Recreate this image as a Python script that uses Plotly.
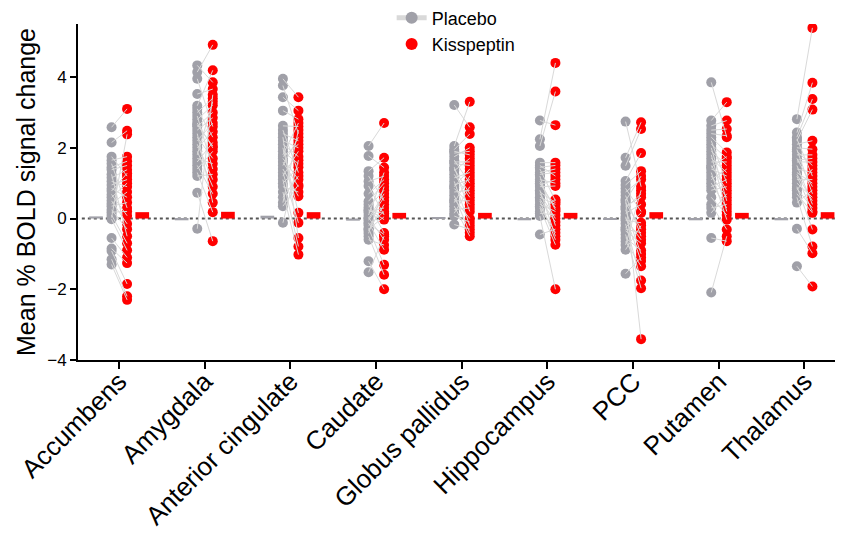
import plotly.graph_objects as go

regions = ["Accumbens", "Amygdala", "Anterior cingulate", "Caudate", "Globus pallidus",
           "Hippocampus", "PCC", "Putamen", "Thalamus"]

placebo = {
    "Accumbens": [2.58, 2.15, 1.75, 1.65, 1.55, 1.45, 1.38, 1.25, 1.15, 1.05, 0.95, 0.85, 0.78, 0.68,
                  0.6, 0.5, 0.42, 0.35, 0.25, 0.18, 0.1, 0.03, -0.02, -0.55, -0.85, -0.92, -1.15, -1.3],
    "Amygdala": [4.33, 4.14, 3.95, 3.52, 3.19, 3.1, 3.0, 2.9, 2.8, 2.7, 2.6, 2.5, 2.4, 2.3,
                 2.2, 2.1, 2.0, 1.9, 1.8, 1.7, 1.6, 1.5, 1.4, 1.3, 1.2, 0.73, -0.29, 2.65],
    "Anterior cingulate": [3.95, 3.76, 3.43, 3.05, 2.62, 2.5, 2.4, 2.3, 2.2, 2.1, 2.0, 1.9, 1.8, 1.7,
                           1.6, 1.5, 1.4, 1.3, 1.2, 1.1, 1.0, 0.9, 0.75, 0.6, 0.45, 0.35, -0.12, 1.75],
    "Caudate": [2.05, 1.77, 1.34, 1.2, 1.05, 0.92, 0.49, 0.4, 0.32, 0.25, 0.18, 0.1, 0.03, -0.05,
                -0.12, -0.2, -0.28, -0.35, -0.42, -0.5, -0.6, -1.21, -1.52, 0.7, 0.0, -0.3, 0.22, -0.15],
    "Globus pallidus": [3.21, 2.05, 1.95, 1.85, 1.75, 1.65, 1.55, 1.45, 1.35, 1.25, 1.15, 1.05, 0.95, 0.85,
                        0.75, 0.65, 0.55, 0.45, 0.35, 0.25, 0.15, 0.07, -0.17, 1.9, 1.4, 0.9, 0.5, 1.6],
    "Hippocampus": [2.77, 2.24, 2.05, 1.58, 1.5, 1.4, 1.3, 1.2, 1.1, 1.0, 0.9, 0.8, 0.7, 0.6,
                    0.5, 0.4, 0.3, 0.2, 0.07, -0.45, 1.45, 0.95, 0.55, 0.15, 1.25, 0.35, 0.75, 1.05],
    "PCC": [2.74, 1.72, 1.49, 1.06, 0.95, 0.85, 0.75, 0.65, 0.55, 0.45, 0.35, 0.25, 0.15, 0.05,
            -0.05, -0.15, -0.25, -0.35, -0.45, -0.55, -0.65, -0.75, -0.88, -1.56, 0.5, 0.0, -0.3, 0.3],
    "Putamen": [3.85, 2.77, 2.62, 2.5, 2.4, 2.3, 2.2, 2.1, 2.0, 1.9, 1.8, 1.7, 1.6, 1.5,
                1.4, 1.3, 1.2, 1.1, 1.0, 0.9, 0.8, 0.6, 0.4, 0.16, -0.55, -2.09, 0.3, 1.45],
    "Thalamus": [2.81, 2.43, 2.3, 2.2, 2.1, 2.0, 1.9, 1.8, 1.7, 1.6, 1.5, 1.4, 1.3, 1.2,
                 1.1, 1.0, 0.9, 0.8, 0.7, 0.6, 0.45, -0.29, -1.35, 1.65, 1.25, 0.85, 2.25, 1.95],
}

kisspeptin = {
    "Accumbens": [3.1, 2.48, 1.2, 1.75, 0.3, 1.62, 1.5, -0.5, 1.38, 0.9, 1.1, 0.6, 1.28, 0.08,
                  1.0, -0.15, 0.75, 0.45, -0.3, 0.2, -0.7, 2.38, -0.9, -1.1, -1.26, -1.85, -2.2, -2.3],
    "Amygdala": [3.85, 4.91, 2.6, 3.66, 4.19, 2.3, 3.4, 1.4, 3.2, 2.0, 3.0, 2.85, 0.45, 1.7,
                 2.7, 1.1, 2.45, 0.9, 3.3, 1.55, 2.15, 0.7, 1.9, 0.18, 1.25, -0.64, 3.5, 2.05],
    "Anterior cingulate": [3.43, 2.4, 3.05, 2.81, 2.6, 1.3, 2.2, -0.55, 2.0, 1.75, 0.16, 1.55, 2.7, 1.1,
                           0.9, 2.3, 0.63, -0.12, 1.9, -0.79, 1.45, 0.75, -1.02, 1.2, 2.5, 0.95, 1.65, 2.1],
    "Caudate": [2.7, 1.44, 1.72, 0.5, 1.2, 0.1, 1.0, -0.41, 0.8, -0.03, 0.3, 1.3, -0.6, 0.6,
                -0.88, 0.2, -1.31, 0.4, 0.9, -1.59, -0.75, -2.0, -0.5, 1.1, 0.7, 0.05, 0.15, -0.45],
    "Globus pallidus": [2.58, 3.3, 2.39, 1.9, 2.0, 1.0, 1.5, 0.2, 1.7, 0.6, 1.3, -0.2, 1.1, 0.4,
                        0.8, -0.4, 0.0, 1.2, -0.5, 0.3, 0.9, -0.1, -0.3, 1.8, 0.7, 1.4, 0.5, 1.6],
    "Hippocampus": [2.64, 4.4, 3.59, 1.58, 1.2, 0.5, 1.4, -0.2, 1.0, 0.3, 0.92, -0.5, 0.0, 0.4,
                    -0.6, 0.2, -0.74, 0.54, -2.0, -0.3, 1.5, 1.1, -0.1, 0.1, 1.3, -0.4, 0.45, 0.25],
    "PCC": [0.9, 2.72, 2.53, 1.85, 1.34, 0.2, 1.1, -0.5, -3.41, -0.3, 0.6, -1.0, 0.4, -1.2,
            -0.12, -1.75, 0.16, -0.7, -1.97, -0.9, -1.35, 0.8, -0.2, -1.1, 1.2, -0.6, -0.4, 0.7],
    "Putamen": [2.3, 3.29, 2.77, 2.53, 2.34, 1.87, 1.0, 1.7, 0.5, 1.5, 0.2, 1.3, 1.6, 0.8,
                1.2, -0.03, 0.6, 1.4, 0.3, 1.1, 0.9, 0.1, -0.31, 0.7, -0.64, -0.5, 0.4, 1.75],
    "Thalamus": [5.39, 3.84, 3.38, 3.08, 2.2, 1.96, 1.5, 1.8, 0.9, 1.6, 0.4, 1.3, 1.0, 0.2,
                 1.1, 0.6, -0.31, 1.4, 0.16, -0.79, 0.8, -0.98, -1.92, 1.7, 0.5, 0.3, 1.2, 0.7],
}

bar_placebo = [0.06, -0.05, 0.08, -0.06, 0.02, -0.05, -0.04, -0.05, -0.05]
bar_kisspeptin = [0.18, 0.19, 0.18, 0.16, 0.16, 0.16, 0.18, 0.16, 0.18]

GREY = "#a0a0a8"
RED = "#ff0000"
LINE = "#d9d9d9"
P_OFF, K_OFF = -0.088, 0.093
BAR_OFF, BAR_W = 0.27, 0.16

fig = go.Figure()

fig.add_trace(go.Bar(x=[i - BAR_OFF for i in range(len(regions))], y=bar_placebo, width=BAR_W,
                     marker=dict(color=GREY, line=dict(width=0)), showlegend=False, hoverinfo="skip"))
fig.add_trace(go.Bar(x=[i + BAR_OFF for i in range(len(regions))], y=bar_kisspeptin, width=BAR_W,
                     marker=dict(color=RED, line=dict(width=0)), showlegend=False, hoverinfo="skip"))

px, py = [], []
kx, ky = [], []
lx, ly = [], []
for i, r in enumerate(regions):
    for a, b in zip(placebo[r], kisspeptin[r]):
        px += [i + P_OFF, None]
        py += [a, None]
        kx.append(i + K_OFF)
        ky.append(b)
        lx += [i + P_OFF, i + K_OFF, None]
        ly += [a, b, None]

fig.add_trace(go.Scatter(x=px, y=py, mode="lines+markers", name="Placebo",
                         marker=dict(color=GREY, size=10, line=dict(width=0)),
                         line=dict(color=LINE, width=1.5), connectgaps=False, hoverinfo="skip"))
fig.add_trace(go.Scatter(x=kx, y=ky, mode="markers", name="Kisspeptin",
                         marker=dict(color=RED, size=10, line=dict(width=0)), hoverinfo="skip"))
fig.add_trace(go.Scatter(x=lx, y=ly, mode="lines", line=dict(color=LINE, width=1),
                         showlegend=False, hoverinfo="skip", connectgaps=False))

fig.add_shape(type="line", xref="paper", yref="y", x0=0.005, x1=0.995, y0=0, y1=0,
              line=dict(color="#555555", width=2, dash="dot"), layer="below")

fig.update_layout(
    width=835, height=525,
    margin=dict(l=70, r=0, t=16, b=173, autoexpand=False),
    paper_bgcolor="white", plot_bgcolor="white",
    font=dict(family="Liberation Sans, Arial, sans-serif", color="black"),
    barmode="overlay",
    legend=dict(x=0.41, y=1.073, xanchor="left", yanchor="top", font=dict(size=18),
                bgcolor="rgba(0,0,0,0)", tracegroupgap=0, itemsizing="constant"),
    xaxis=dict(range=[-0.48, 8.45], tickmode="array", tickvals=list(range(len(regions))),
               ticktext=regions, tickangle=-45, tickfont=dict(size=26), automargin=False,
               ticklabelstandoff=-13,
               showline=True, linecolor="black", linewidth=2, ticks="outside",
               ticklen=7, tickwidth=2, tickcolor="black", showgrid=False, zeroline=False),
    yaxis=dict(range=[-4, 5.5], tickmode="array", tickvals=[-4, -2, 0, 2, 4],
               tickfont=dict(size=17), showline=True, linecolor="black", linewidth=2,
               ticks="outside", ticklen=6, tickwidth=2, tickcolor="black",
               showgrid=False, zeroline=False, automargin=False,
               title=dict(text="Mean % BOLD signal change", font=dict(size=25), standoff=4)),
)

fig.write_html("out.html")
